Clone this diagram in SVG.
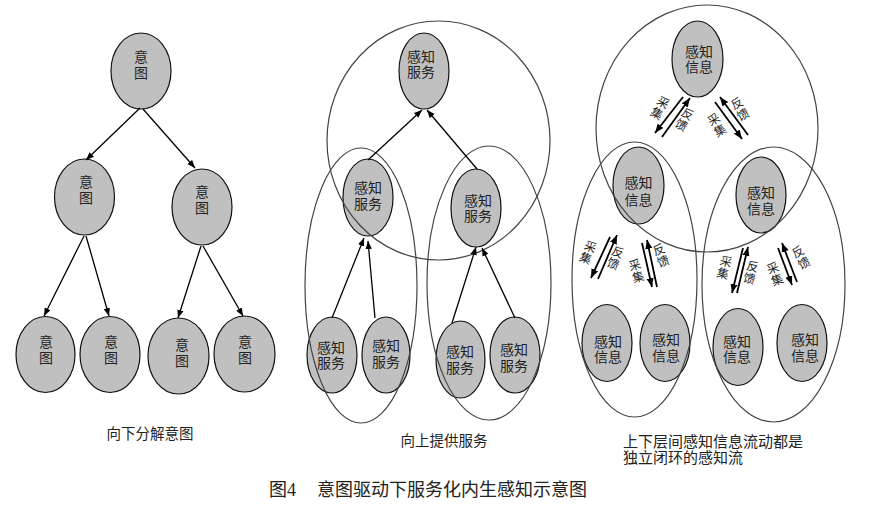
<svg xmlns="http://www.w3.org/2000/svg" width="877" height="509" viewBox="0 0 877 509">
<defs>
<marker id="ah" viewBox="0 0 10 10" refX="10" refY="5" markerWidth="8" markerHeight="8" markerUnits="userSpaceOnUse" orient="auto"><path d="M0,1 L10,5 L0,9 z" fill="#000"/></marker>
<marker id="ah2" viewBox="0 0 10 10" refX="10" refY="5" markerWidth="9" markerHeight="9" markerUnits="userSpaceOnUse" orient="auto"><path d="M0,1 L10,5 L0,9 z" fill="#000"/></marker>
</defs>
<style>
.n{fill:#c0c0c0;stroke:#111;stroke-width:1.2}
.c{fill:none;stroke:#444;stroke-width:1.2}
.t{font-family:"Liberation Sans","Noto Sans CJK SC","Noto Sans CJK JP",sans-serif;font-size:14px;fill:#222;text-anchor:middle;dominant-baseline:central}
.v{font-family:"Noto Sans CJK SC","Noto Sans CJK JP",sans-serif;font-size:14px;fill:#222;text-anchor:middle;writing-mode:vertical-rl;letter-spacing:2px}
.s{font-family:"Noto Sans CJK SC","Noto Sans CJK JP",sans-serif;font-size:12px;fill:#222;text-anchor:middle;writing-mode:vertical-rl;letter-spacing:0.5px}
.a{stroke:#000;stroke-width:1.3;fill:none;marker-end:url(#ah)}
.b{stroke:#000;stroke-width:1.8;fill:none;marker-end:url(#ah2)}
.cap{font-family:"Liberation Serif","Noto Sans CJK SC",serif;font-size:14.5px;fill:#222;dominant-baseline:central}
</style>
<rect width="877" height="509" fill="#fff"/>

<!-- Left tree: intents -->
<g id="L-top"><ellipse class="n" cx="141" cy="71" rx="30" ry="38"/><text class="v" x="141" y="66">意图</text></g>
<g id="L-m1"><ellipse class="n" cx="84.5" cy="197" rx="30" ry="38"/><text class="v" x="86" y="191">意图</text></g>
<g id="L-m2"><ellipse class="n" cx="202" cy="207" rx="30" ry="38"/><text class="v" x="202" y="200.5">意图</text></g>
<g id="L-b1"><ellipse class="n" cx="45.5" cy="354.5" rx="29.5" ry="38"/><text class="v" x="46" y="350.5">意图</text></g>
<g id="L-b2"><ellipse class="n" cx="110" cy="354.5" rx="30" ry="38"/><text class="v" x="111" y="350.5">意图</text></g>
<g id="L-b3"><ellipse class="n" cx="178.5" cy="356" rx="30.5" ry="38"/><text class="v" x="182" y="353.5">意图</text></g>
<g id="L-b4"><ellipse class="n" cx="244.5" cy="354" rx="30.5" ry="38"/><text class="v" x="245" y="350.5">意图</text></g>

<!-- Middle: services -->
<g id="M-top"><ellipse class="n" cx="424" cy="71" rx="25" ry="38"/><text class="t"><tspan x="421" y="57">感知</tspan><tspan x="421" y="72">服务</tspan></text></g>
<g id="M-m1"><ellipse class="n" cx="368" cy="197.5" rx="25" ry="38.5"/><text class="t"><tspan x="368" y="188">感知</tspan><tspan x="368" y="204">服务</tspan></text></g>
<g id="M-m2"><ellipse class="n" cx="476" cy="208" rx="25" ry="39"/><text class="t"><tspan x="478" y="201">感知</tspan><tspan x="478" y="216">服务</tspan></text></g>
<g id="M-b1"><ellipse class="n" cx="332" cy="355" rx="25" ry="38"/><text class="t"><tspan x="331" y="348">感知</tspan><tspan x="331" y="363">服务</tspan></text></g>
<g id="M-b2"><ellipse class="n" cx="386" cy="355" rx="24" ry="38"/><text class="t"><tspan x="386" y="346">感知</tspan><tspan x="386" y="362">服务</tspan></text></g>
<g id="M-b3"><ellipse class="n" cx="460.5" cy="359.5" rx="24.5" ry="38.5"/><text class="t"><tspan x="460" y="352">感知</tspan><tspan x="460" y="368">服务</tspan></text></g>
<g id="M-b4"><ellipse class="n" cx="515" cy="355" rx="25" ry="38"/><text class="t"><tspan x="514" y="350">感知</tspan><tspan x="514" y="366">服务</tspan></text></g>

<!-- Right: sensing info -->
<g id="R-top"><ellipse class="n" cx="697.5" cy="59" rx="25.5" ry="38"/><text class="t"><tspan x="699" y="52">感知</tspan><tspan x="699" y="67">信息</tspan></text></g>
<g id="R-m1"><ellipse class="n" cx="638.5" cy="185.5" rx="25.5" ry="38.5"/><text class="t"><tspan x="638.5" y="183">感知</tspan><tspan x="638.5" y="200">信息</tspan></text></g>
<g id="R-m2"><ellipse class="n" cx="761" cy="195" rx="25" ry="38"/><text class="t"><tspan x="761" y="193">感知</tspan><tspan x="761" y="209">信息</tspan></text></g>
<g id="R-b1"><ellipse class="n" cx="607" cy="343" rx="25" ry="38.5"/><text class="t"><tspan x="608" y="342">感知</tspan><tspan x="608" y="357">信息</tspan></text></g>
<g id="R-b2"><ellipse class="n" cx="665" cy="343" rx="25" ry="38.5"/><text class="t"><tspan x="666" y="340">感知</tspan><tspan x="666" y="356">信息</tspan></text></g>
<g id="R-b3"><ellipse class="n" cx="738" cy="347" rx="25" ry="38.5"/><text class="t"><tspan x="737" y="342">感知</tspan><tspan x="737" y="357">信息</tspan></text></g>
<g id="R-b4"><ellipse class="n" cx="802" cy="343" rx="25" ry="38.5"/><text class="t"><tspan x="805" y="340">感知</tspan><tspan x="805" y="356">信息</tspan></text></g>

<!-- Container outlines -->
<g id="containers">
<ellipse class="c" cx="438.5" cy="140.5" rx="111.5" ry="119.5"/>
<ellipse class="c" cx="361" cy="285.5" rx="56" ry="137.5"/>
<ellipse class="c" cx="489" cy="283" rx="62" ry="137"/>
<ellipse class="c" cx="707" cy="128.5" rx="111" ry="123.5"/>
<ellipse class="c" cx="634.5" cy="279.5" rx="62.5" ry="137.5"/>
<ellipse class="c" cx="773.5" cy="284.5" rx="71.5" ry="137.5"/>
</g>

<g id="connectors">
<!-- left tree -->
<line class="a" x1="140" y1="108" x2="86" y2="160"/>
<line class="a" x1="143" y1="109" x2="195" y2="168"/>
<line class="a" x1="84" y1="236" x2="44" y2="316"/>
<line class="a" x1="86" y1="236" x2="109" y2="316"/>
<line class="a" x1="201" y1="246" x2="178" y2="318"/>
<line class="a" x1="203" y1="246" x2="243" y2="316"/>
<!-- middle -->
<line class="a" x1="368" y1="160" x2="422" y2="110"/>
<line class="a" x1="477" y1="169" x2="427" y2="110"/>
<line class="a" x1="332" y1="318" x2="364" y2="238"/>
<line class="a" x1="375" y1="318" x2="368" y2="241"/>
<line class="a" x1="452" y1="323" x2="476" y2="247"/>
<line class="a" x1="515" y1="318" x2="482" y2="248"/>
<!-- right: collect / feedback pairs -->
<line class="b" x1="683" y1="97" x2="655" y2="133"/>
<line class="b" x1="662" y1="137" x2="690" y2="98"/>
<line class="b" x1="748" y1="135" x2="720" y2="97"/>
<line class="b" x1="715" y1="102" x2="742" y2="139"/>
<line class="b" x1="610" y1="237" x2="591" y2="278"/>
<line class="b" x1="598" y1="279" x2="617" y2="235"/>
<line class="b" x1="642" y1="243" x2="652" y2="287"/>
<line class="b" x1="657" y1="287" x2="647" y2="240"/>
<line class="b" x1="743" y1="248" x2="732" y2="293"/>
<line class="b" x1="737" y1="293" x2="748" y2="247"/>
<line class="b" x1="797" y1="282" x2="782" y2="243"/>
<line class="b" x1="778" y1="248" x2="792" y2="285"/>
</g>

<g id="flow-labels">
<text class="s" transform="translate(660,108) rotate(30)">采集</text>
<text class="s" transform="translate(684.5,119.5) rotate(30)">反馈</text>
<text class="s" transform="translate(740,109) rotate(-28)">反馈</text>
<text class="s" transform="translate(717,125) rotate(-30)">采集</text>

<text class="s" transform="translate(588,252.5) rotate(22)">采集</text>
<text class="s" transform="translate(615.5,258) rotate(22)">反馈</text>
<text class="s" transform="translate(636.5,271) rotate(-15)">采集</text>
<text class="s" transform="translate(661,255.5) rotate(-20)">反馈</text>

<text class="s" transform="translate(724.5,267.5) rotate(14)">采集</text>
<text class="s" transform="translate(751,272.5) rotate(14)">反馈</text>
<text class="s" transform="translate(775,274) rotate(-20)">采集</text>
<text class="s" transform="translate(801,257.5) rotate(-28)">反馈</text>
</g>

<g id="captions">
<text class="cap" x="150" y="434" text-anchor="middle">向下分解意图</text>
<text class="cap" x="444" y="441" text-anchor="middle">向上提供服务</text>
<text class="cap" style="font-size:15px"><tspan x="623" y="442">上下层间感知信息流动都是</tspan><tspan x="623" y="457.5">独立闭环的感知流</tspan></text>
<text class="cap" x="269" y="490" style="font-size:18px">图4<tspan x="317">意图驱动下服务化内生感知示意图</tspan></text>
</g>
</svg>
